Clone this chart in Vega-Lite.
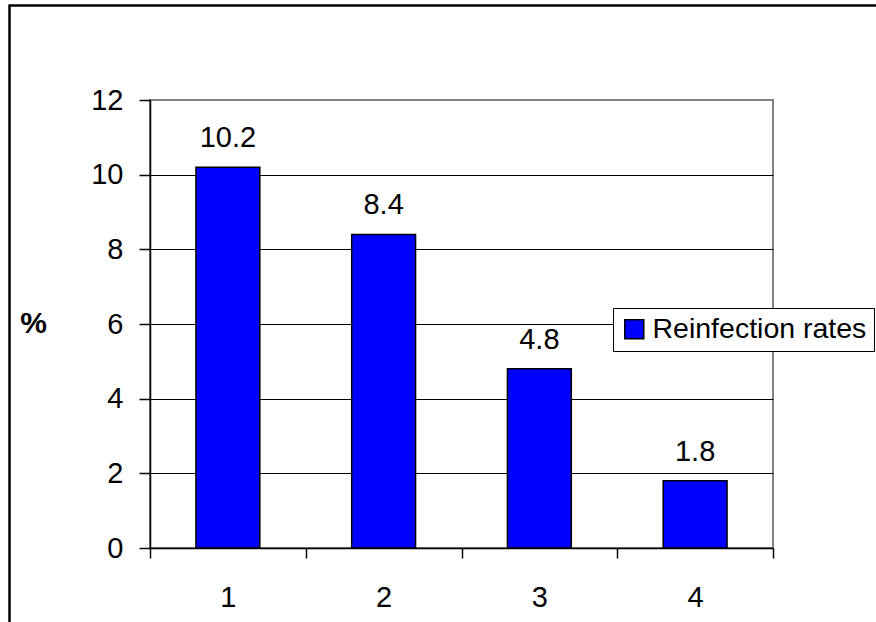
{
  "$schema": "https://vega.github.io/schema/vega-lite/v6.json",
  "usermeta": {"embedOptions": {"actions": false}},
  "width": 623,
  "height": 448,
  "autosize": {"type": "none"},
  "padding": {"left": 150, "top": 100, "right": 103, "bottom": 74},
  "background": "white",
  "config": {
    "font": "Liberation Sans",
    "view": {"stroke": "#808080", "strokeWidth": 2}
  },
  "data": {
    "values": [
      {"cat": "1", "rate": 10.2, "series": "Reinfection rates"},
      {"cat": "2", "rate": 8.4, "series": "Reinfection rates"},
      {"cat": "3", "rate": 4.8, "series": "Reinfection rates"},
      {"cat": "4", "rate": 1.8, "series": "Reinfection rates"}
    ]
  },
  "resolve": {
    "scale": {"x": "independent", "y": "independent"},
    "axis": {"x": "independent", "y": "independent"}
  },
  "layer": [
    {
      "layer": [
        {
          "mark": {"type": "bar", "width": {"band": 0.41}, "stroke": "black", "strokeWidth": 1.5},
          "encoding": {
            "x": {
              "field": "cat",
              "type": "ordinal",
              "scale": {"paddingInner": 0, "paddingOuter": 0},
              "axis": {
                "orient": "bottom",
                "title": null,
                "labelAngle": 0,
                "labelFontSize": 29,
                "labelColor": "black",
                "labelPadding": 25,
                "tickBand": "extent",
                "tickSize": 10,
                "tickColor": "black",
                "tickWidth": 1.5,
                "domainColor": "black",
                "domainWidth": 1.5,
                "grid": false
              }
            },
            "y": {
              "field": "rate",
              "type": "quantitative",
              "scale": {"domain": [0, 12], "nice": false},
              "axis": {
                "orient": "left",
                "values": [0, 2, 4, 6, 8, 10, 12],
                "labelFontSize": 29,
                "labelColor": "black",
                "labelPadding": 16,
                "tickSize": 11,
                "tickColor": "black",
                "tickWidth": 1.5,
                "domainColor": "black",
                "domainWidth": 1.5,
                "grid": true,
                "gridColor": {"condition": {"test": "datum.value == 12", "value": "#808080"}, "value": "black"},
                "gridWidth": 1.2,
                "title": "%",
                "titleAngle": 0,
                "titleFontSize": 30,
                "titleFontWeight": "bold",
                "titleColor": "black",
                "titleAlign": "center",
                "titleBaseline": "middle",
                "titleX": -117,
                "titleY": 223
              }
            },
            "color": {
              "field": "series",
              "type": "nominal",
              "scale": {"range": ["#0000FF"]},
              "legend": {
                "orient": "none",
                "legendX": 463,
                "legendY": 208,
                "title": null,
                "fillColor": "white",
                "strokeColor": "black",
                "padding": 7,
                "symbolType": "square",
                "symbolSize": 361,
                "symbolStrokeColor": "black",
                "symbolStrokeWidth": 1.5,
                "labelFontSize": 28.5,
                "labelColor": "black",
                "labelOffset": 4,
                "labelLimit": 0,
                "cornerRadius": 0
              }
            }
          }
        },
        {
          "mark": {"type": "text", "baseline": "alphabetic", "dy": -20, "fontSize": 29, "color": "black"},
          "encoding": {
            "x": {"field": "cat", "type": "ordinal"},
            "y": {"field": "rate", "type": "quantitative"},
            "text": {"field": "rate", "type": "quantitative", "format": ".1f"}
          }
        }
      ]
    },
    {
      "data": {"values": [{"f": 0}]},
      "mark": {"type": "point", "opacity": 0},
      "encoding": {
        "x": {
          "datum": 0,
          "type": "quantitative",
          "scale": {"domain": [0, 1], "range": [-141, 726]},
          "axis": {"orient": "top", "offset": 95, "domainColor": "black", "domainWidth": 2.5, "ticks": false, "labels": false, "grid": false, "title": null}
        },
        "y": {
          "datum": 0,
          "type": "quantitative",
          "scale": {"domain": [0, 1], "range": [530, -96]},
          "axis": {"orient": "right", "offset": -764, "domainColor": "black", "domainWidth": 2.5, "ticks": false, "labels": false, "grid": false, "title": null}
        }
      }
    }
  ]
}
